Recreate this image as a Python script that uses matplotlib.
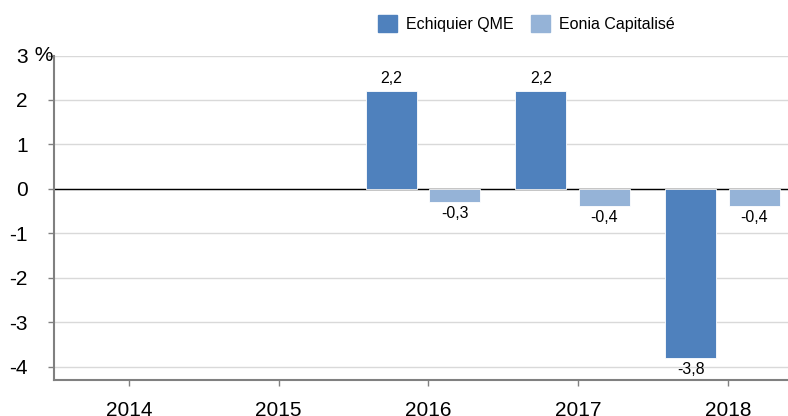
import matplotlib.pyplot as plt
import matplotlib.transforms as mtransforms
from matplotlib.patches import Patch
import numpy as np

years = ['2014', '2015', '2016', '2017', '2018']
echiquier = [np.nan, np.nan, 2.2, 2.2, -3.8]
eonia = [np.nan, np.nan, -0.3, -0.38, -0.38]
y_ticks = [3, 2, 1, 0, -1, -2, -3, -4]

blue_dark = '#4f81bd'
blue_light = '#95b3d7'

plt.rcParams['font.family'] = ['Liberation Sans', 'DejaVu Sans']

fig = plt.figure(figsize=(7.88, 4.16), dpi=100)
ax = fig.add_axes([54 / 788, 36 / 416, 1 - 54 / 788, (380 - 55.5) / 416])

x = np.arange(len(years))
w = 0.34
b1 = ax.bar(x - 0.08 - w / 2, echiquier, w, color=blue_dark, edgecolor='white', linewidth=0.6, zorder=3)
b2 = ax.bar(x + 0.005 + w / 2, eonia, w, color=blue_light, edgecolor='white', linewidth=0.6, zorder=3)

# data labels
for bars, vals in [(b1, echiquier), (b2, eonia)]:
    for rect, v in zip(bars, vals):
        if np.isnan(v):
            continue
        cx = rect.get_x() + rect.get_width() / 2
        txt = f'{v:.1f}'.replace('.', ',')
        if v >= 0:
            ax.annotate(txt, (cx, v), xytext=(0, 4), textcoords='offset points',
                        ha='center', va='bottom', fontsize=11.5, zorder=4)
        else:
            ax.annotate(txt, (cx, v), xytext=(0, -3), textcoords='offset points',
                        ha='center', va='top', fontsize=11.5, zorder=4)

ax.set_xlim(-0.5, 4.4)
ax.set_ylim(-4.3, 3)
ax.set_xticks(x)
ax.set_xticklabels(years, fontsize=15)
ax.set_yticks(y_ticks)
ax.set_yticklabels([str(t) for t in y_ticks], fontsize=15)

ax.grid(axis='y', color='#d9d9d9', linewidth=1, zorder=0)
ax.axhline(0, color='black', linewidth=1, zorder=2)

for s in ['top', 'right']:
    ax.spines[s].set_visible(False)
for s in ['left', 'bottom']:
    ax.spines[s].set_color('#808080')
    ax.spines[s].set_linewidth(1.5)

ax.tick_params(axis='y', length=4, width=1, color='#808080', pad=15)
ax.tick_params(axis='x', length=4, width=1, color='#808080', pad=11)

# percent sign after the top tick label
trans = mtransforms.blended_transform_factory(fig.transFigure, ax.transData)
fig.text(29 / 788, 3, ' %', transform=trans, ha='left', va='center', fontsize=15)

handles = [Patch(color=blue_dark, label='Echiquier QME'),
           Patch(color=blue_light, label='Eonia Capitalisé')]
fig.legend(handles=handles, loc='center left', bbox_to_anchor=(378 / 788, 1 - 23.5 / 416),
           ncol=2, frameon=False, fontsize=11.5, handlelength=1.2, handleheight=1.2,
           handletextpad=0.55, columnspacing=1.1, borderpad=0, borderaxespad=0)

fig.savefig('out.png', dpi=100)
